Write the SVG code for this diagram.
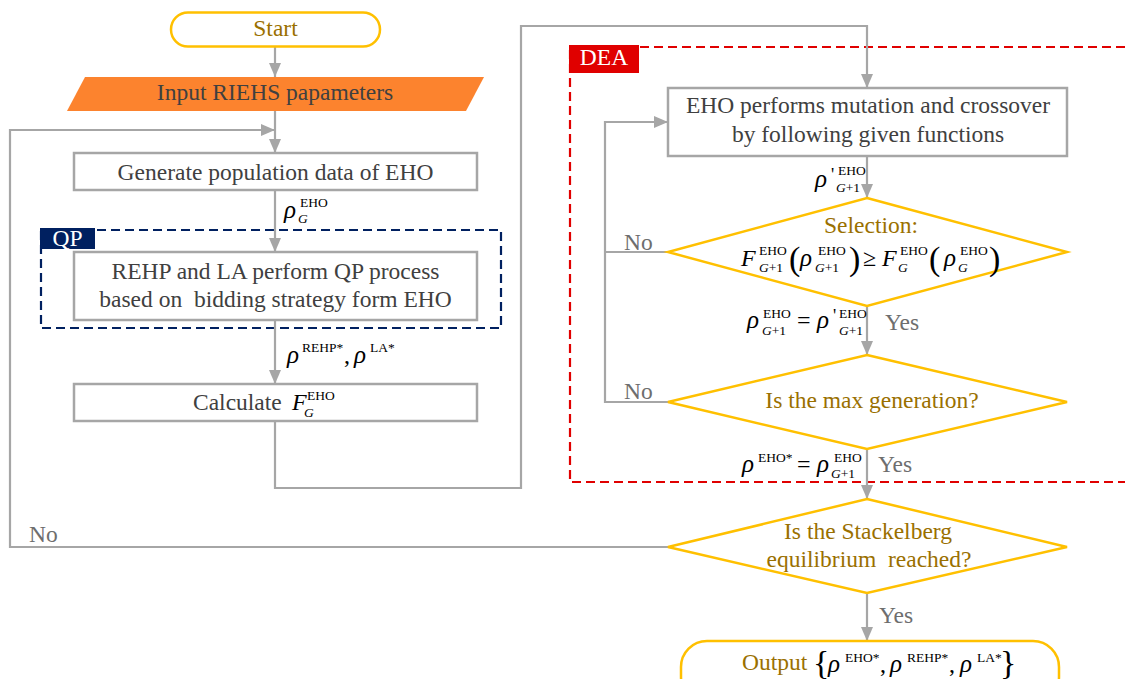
<svg xmlns="http://www.w3.org/2000/svg" width="1125" height="679" viewBox="0 0 1125 679" font-family="'Liberation Serif', 'DejaVu Serif', serif">
<style>
.t{font-family:'Liberation Serif','DejaVu Serif',serif;font-size:23.5px;fill:#404040}
.c{text-anchor:middle}
.g{fill:#9A7000}
.w{fill:#ffffff}
.yn{fill:#6E6E6E}
.pre{white-space:pre}
.box{fill:#ffffff;stroke:#A6A6A6;stroke-width:2.5}
.dia{fill:#ffffff;stroke:#FFC000;stroke-width:2.5}
.term{fill:#ffffff;stroke:#FFC000;stroke-width:2.5}
.ln{fill:none;stroke:#A6A6A6;stroke-width:2.2}
.m{font-family:'Liberation Serif','DejaVu Serif',serif;fill:#000000}
.r{font-size:25px;font-style:italic}
.F{font-size:24px;font-style:italic}
.s{font-size:13.5px}
.i{font-style:italic}
.p{font-size:34px;font-weight:lighter}
.o{font-size:24px}
</style>
<defs>
<marker id="ah" viewBox="0 0 14 12" refX="14" refY="6" markerWidth="14" markerHeight="12" markerUnits="userSpaceOnUse" orient="auto">
<path d="M0,0 L14,6 L0,12 z" fill="#A6A6A6"/>
</marker>
</defs>

<g id="qp-group">
<rect x="41" y="230" width="460" height="98" fill="none" stroke="#002060" stroke-width="2.2" stroke-dasharray="9 5"/>
<rect x="40" y="228" width="55" height="21" fill="#002060"/>
<text class="t w c" x="67.5" y="246">QP</text>
</g>

<g id="dea-group">
<rect x="570" y="47" width="600" height="435" fill="none" stroke="#E00000" stroke-width="2.2" stroke-dasharray="9 5"/>
<rect x="569" y="45" width="70" height="28" fill="#E00000"/>
<text class="t w c" x="604" y="65">DEA</text>
</g>

<g id="connectors">
<path class="ln" d="M275,47 V77" marker-end="url(#ah)"/>
<path class="ln" d="M275,111 V153" marker-end="url(#ah)"/>
<path class="ln" d="M668,547 H10 V130 H275" marker-end="url(#ah)"/>
<path class="ln" d="M275,191 V252" marker-end="url(#ah)"/>
<path class="ln" d="M275,320 V384" marker-end="url(#ah)"/>
<path class="ln" d="M275,421 V488 H521 V26 H867 V88" marker-end="url(#ah)"/>
<path class="ln" d="M867,156 V198" marker-end="url(#ah)"/>
<path class="ln" d="M867,306 V355" marker-end="url(#ah)"/>
<path class="ln" d="M867,449 V499" marker-end="url(#ah)"/>
<path class="ln" d="M867,593 V641" marker-end="url(#ah)"/>
<path class="ln" d="M668,252 H605"/>
<path class="ln" d="M668,402 H605 V122 H668" marker-end="url(#ah)"/>
</g>

<g id="start">
<rect class="term" x="171" y="12.5" width="209" height="34" rx="17"/>
<text class="t g c" x="275.5" y="36">Start</text>
</g>

<g id="input">
<polygon points="85,77 484,77 466,111 67,111" fill="#FC832E"/>
<text class="t c" x="275" y="100">Input RIEHS papameters</text>
</g>

<g id="generate">
<rect class="box" x="74" y="153" width="403" height="37"/>
<text class="t c" x="275.5" y="180">Generate population data of EHO</text>
</g>

<g id="qp-process">
<rect class="box" x="74" y="252" width="403" height="68"/>
<text class="t c" x="275.5" y="279">REHP and LA perform QP process</text>
<text class="t c pre" x="275.5" y="307">based on  bidding strategy form EHO</text>
</g>

<g id="calculate">
<rect class="box" x="74" y="384" width="403" height="37"/>
<text class="t" x="193" y="410">Calculate</text>
<text class="m F" x="292" y="410">F</text>
<text class="m s" x="307" y="400">EHO</text>
<text class="m s i" x="304" y="417">G</text>
</g>

<g id="eho-mutation">
<rect class="box" x="668" y="88" width="399" height="68"/>
<text class="t c" x="868" y="113">EHO performs mutation and crossover</text>
<text class="t c" x="868" y="142">by following given functions</text>
</g>

<g id="selection">
<polygon class="dia" points="867,198 1067,252 867,306 668,252"/>
<text class="t g c" x="871" y="233">Selection:</text>
<text class="m F" x="741" y="266">F</text>
<text class="m s" x="759" y="255">EHO</text>
<text class="m s" x="759" y="272"><tspan class="i">G</tspan>+1</text>
<text class="m p" x="789" y="270">(</text>
<text class="m r" x="800" y="266">ρ</text>
<text class="m s" x="818" y="255">EHO</text>
<text class="m s" x="815" y="272"><tspan class="i">G</tspan>+1</text>
<text class="m p" x="849" y="270">)</text>
<text class="m o" x="863" y="266">≥</text>
<text class="m F" x="882" y="266">F</text>
<text class="m s" x="900" y="255">EHO</text>
<text class="m s i" x="898" y="272">G</text>
<text class="m p" x="929" y="270">(</text>
<text class="m r" x="944" y="266">ρ</text>
<text class="m s" x="960" y="255">EHO</text>
<text class="m s i" x="958" y="272">G</text>
<text class="m p" x="989" y="270">)</text>
</g>

<g id="max-generation">
<polygon class="dia" points="867,355 1067,402 867,449 668,402"/>
<text class="t g c" x="872" y="408">Is the max generation?</text>
</g>

<g id="stackelberg">
<polygon class="dia" points="867,499 1067,547 867,593 668,547"/>
<text class="t g c" x="868" y="539">Is the Stackelberg</text>
<text class="t g c pre" x="869" y="567">equilibrium  reached?</text>
</g>

<g id="output">
<rect class="term" x="681" y="641" width="378" height="62" rx="26"/>
<text class="t g" x="742" y="670">Output</text>
<text class="m p" x="813" y="674">{</text>
<text class="m r" x="828" y="672">ρ</text>
<text class="m s" x="845" y="662">EHO*</text>
<text class="m o" x="880" y="672">,</text>
<text class="m r" x="890" y="672">ρ</text>
<text class="m s" x="907" y="662">REHP*</text>
<text class="m o" x="949" y="672">,</text>
<text class="m r" x="960" y="672">ρ</text>
<text class="m s" x="977" y="662">LA*</text>
<text class="m p" x="1000" y="674">}</text>
</g>

<g id="labels">
<text class="m r" x="284" y="218">ρ</text>
<text class="m s" x="300" y="207">EHO</text>
<text class="m s i" x="298" y="223">G</text>

<text class="m r" x="287" y="363">ρ</text>
<text class="m s" x="302" y="352">REHP*</text>
<text class="m o" x="344" y="363">,</text>
<text class="m r" x="354" y="363">ρ</text>
<text class="m s" x="370" y="352">LA*</text>

<text class="m r" x="815" y="187">ρ</text>
<text class="m" style="font-size:18px" x="831" y="181">'</text>
<text class="m s" x="838" y="175">EHO</text>
<text class="m s" x="836" y="192"><tspan class="i">G</tspan>+1</text>

<text class="m r" x="747" y="328">ρ</text>
<text class="m s" x="763" y="318">EHO</text>
<text class="m s" x="762" y="335"><tspan class="i">G</tspan>+1</text>
<text class="m o" x="797" y="328">=</text>
<text class="m r" x="817" y="328">ρ</text>
<text class="m" style="font-size:18px" x="833" y="322">'</text>
<text class="m s" x="839" y="318">EHO</text>
<text class="m s" x="839" y="335"><tspan class="i">G</tspan>+1</text>
<text class="t yn" x="885" y="330">Yes</text>

<text class="m r" x="742" y="472">ρ</text>
<text class="m s" x="758" y="462">EHO*</text>
<text class="m o" x="797" y="472">=</text>
<text class="m r" x="817" y="472">ρ</text>
<text class="m s" x="834" y="462">EHO</text>
<text class="m s" x="831" y="478"><tspan class="i">G</tspan>+1</text>
<text class="t yn" x="878" y="472">Yes</text>

<text class="t yn" x="879" y="623">Yes</text>
<text class="t yn" x="624" y="250">No</text>
<text class="t yn" x="624" y="399">No</text>
<text class="t yn" x="29" y="542">No</text>
</g>
</svg>
